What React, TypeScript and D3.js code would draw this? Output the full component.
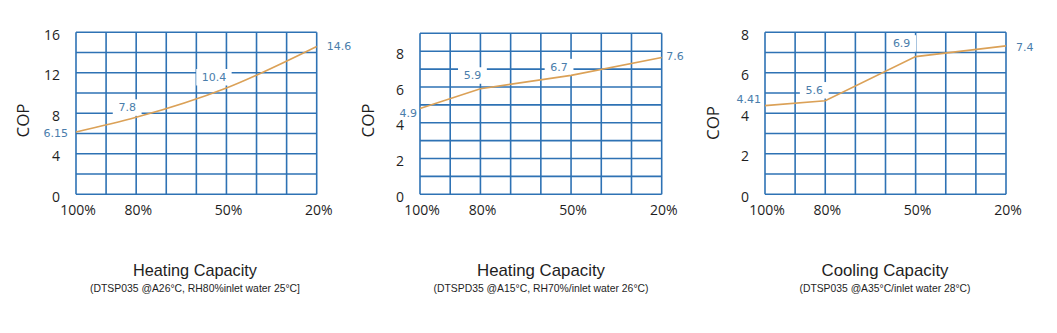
import React from "react";
import * as d3 from "d3";

// ---- data ----
const capacityTicks = [100, 80, 50, 20];
const capacityTickLabels = ["100%", "80%", "50%", "20%"];

const heatingA26Values = [6.15, 7.6, 10.5, 14.6];
const heatingA26Labels = ["6.15", "7.8", "10.4", "14.6"];

const heatingA15Values = [4.8, 5.9, 6.65, 7.65];
const heatingA15Labels = ["4.9", "5.9", "6.7", "7.6"];

const coolingA35Values = [4.38, 4.62, 6.8, 7.33];
const coolingA35Labels = ["4.41", "5.6", "6.9", "7.4"];

const chartTitles = ["Heating Capacity", "Heating Capacity", "Cooling Capacity"];
const chartSubtitles = [
  "(DTSP035 @A26°C, RH80%inlet water 25°C]",
  "(DTSPD35 @A15°C, RH70%/inlet water 26°C)",
  "(DTSP035 @A35°C/inlet water 28°C)",
];

// ---- styling / layout ----
const GRID = "#2e72b4";
const LINE = "#dba157";
const LABEL = "#4a7dab";
const TEXT = "#1e1e1e";

type Place = { mode: "left" | "right" | "above"; dx: number; dy: number };

const charts = [
  {
    values: heatingA26Values,
    labels: heatingA26Labels,
    yMax: 16,
    yLabelStep: 4,
    left: 76, right: 316.7, top: 32.3, bottom: 194.3,
    curve: d3.curveMonotoneX,
    copX: 22.5, copY: 120.5,
    titleW: 124, subW: 210, cx: 195,
    places: [
      { mode: "left", dx: -8, dy: 1 },
      { mode: "above", dx: -9, dy: -10 },
      { mode: "above", dx: -12.5, dy: -11 },
      { mode: "right", dx: 10, dy: 0 },
    ] as Place[],
  },
  {
    values: heatingA15Values,
    labels: heatingA15Labels,
    yMax: 9,
    yLabelStep: 2,
    left: 420, right: 661.7, top: 33.3, bottom: 194.3,
    curve: d3.curveLinear,
    copX: 368, copY: 120.5,
    titleW: 128, subW: 215, cx: 541,
    places: [
      { mode: "left", dx: -3, dy: 4.5 },
      { mode: "above", dx: -8, dy: -13.5 },
      { mode: "above", dx: -12, dy: -8.5 },
      { mode: "right", dx: 4.5, dy: -1.5 },
    ] as Place[],
  },
  {
    values: coolingA35Values,
    labels: coolingA35Labels,
    yMax: 8,
    yLabelStep: 2,
    left: 765, right: 1006, top: 32.3, bottom: 194.3,
    curve: d3.curveLinear,
    copX: 713, copY: 123,
    titleW: 127, subW: 171, cx: 885,
    places: [
      { mode: "left", dx: -4, dy: -6.5 },
      { mode: "above", dx: -11, dy: -10.7 },
      { mode: "above", dx: -14, dy: -13.4 },
      { mode: "right", dx: 10, dy: 0.8 },
    ] as Place[],
  },
];

function Chart({ c, i }: { c: (typeof charts)[number]; i: number }) {
  const x = d3.scaleLinear().domain([100, 20]).range([c.left, c.right]);
  const y = d3.scaleLinear().domain([0, c.yMax]).range([c.bottom, c.top]);
  const xGrid = d3.range(100, 19, -10);
  const yGrid = d3.range(0, c.yMax + 0.001, c.yMax === 16 ? 2 : 1);
  const yLabels = d3.range(0, c.yMax + 0.001, c.yLabelStep);
  const pts = capacityTicks.map((p, k) => [x(p), y(c.values[k])] as [number, number]);
  const path = d3.line().curve(c.curve)(pts) || "";
  const fontLabel = "'DejaVu Sans', Verdana, sans-serif";
  const fontTick = "'Open Sans', 'Segoe UI', sans-serif";
  const fontTitle = "'Liberation Sans Narrow', 'Arial Narrow', 'Liberation Sans', Arial, sans-serif";
  return (
    <g>
      {/* grid */}
      {xGrid.map((v) => (
        <line key={"vx" + v} x1={x(v)} x2={x(v)} y1={c.top} y2={c.bottom} stroke={GRID} strokeWidth={1.6} />
      ))}
      {yGrid.map((v) => (
        <line key={"hy" + v} x1={c.left} x2={c.right} y1={y(v)} y2={y(v)} stroke={GRID} strokeWidth={1.6} />
      ))}
      {/* label boxes */}
      {c.places.map((p, k) =>
        p.mode === "above" ? (
          <rect
            key={"b" + k}
            x={pts[k][0] + p.dx - (c.labels[k].length * 6.6 + 9) / 2}
            y={pts[k][1] + p.dy - 8}
            width={c.labels[k].length * 6.6 + 9}
            height={16.5}
            fill="#fff"
          />
        ) : null
      )}
      {/* line */}
      <path d={path} fill="none" stroke={LINE} strokeWidth={1.6} />
      {/* value labels */}
      {c.places.map((p, k) => (
        <text
          key={"l" + k}
          x={pts[k][0] + p.dx}
          y={pts[k][1] + p.dy}
          dy="0.36em"
          textAnchor={p.mode === "left" ? "end" : p.mode === "right" ? "start" : "middle"}
          fontFamily={fontLabel}
          fontSize={11}
          fill={LABEL}
        >
          {c.labels[k]}
        </text>
      ))}
      {/* y tick labels */}
      {yLabels.map((v) => (
        <text
          key={"yl" + v}
          x={c.left - 16}
          y={y(v) + 2.5}
          dy="0.36em"
          textAnchor="end"
          fontFamily={fontTick}
          fontSize={14}
          fill={TEXT}
        >
          {v}
        </text>
      ))}
      {/* x tick labels */}
      {capacityTicks.map((p, k) => (
        <text
          key={"xl" + p}
          x={x(p) + 2}
          y={210}
          dy="0.36em"
          textAnchor="middle"
          fontFamily={fontTick}
          fontSize={14}
          fill={TEXT}
        >
          {capacityTickLabels[k]}
        </text>
      ))}
      {/* axis title */}
      <text
        transform={`translate(${c.copX},${c.copY}) rotate(-90)`}
        dy="0.36em"
        textAnchor="middle"
        fontFamily={fontTick}
        fontSize={17}
        fill={TEXT}
      >
        COP
      </text>
      {/* titles */}
      <text
        x={c.cx}
        y={270}
        dy="0.36em"
        textAnchor="middle"
        fontFamily={fontTitle}
        fontSize={17}
        fill={TEXT}
        textLength={c.titleW}
        lengthAdjust="spacingAndGlyphs"
      >
        {chartTitles[i]}
      </text>
      <text
        x={c.cx}
        y={288.5}
        dy="0.36em"
        textAnchor="middle"
        fontFamily={fontTitle}
        fontSize={11}
        fill={TEXT}
        textLength={c.subW}
        lengthAdjust="spacingAndGlyphs"
      >
        {chartSubtitles[i]}
      </text>
    </g>
  );
}

export default function App() {
  return (
    <svg
      width={1057}
      height={333}
      style={{ position: "absolute", left: 0, top: 0, background: "#fff" }}
    >
      <rect width={1057} height={333} fill="#fff" />
      {charts.map((c, i) => (
        <Chart key={i} c={c} i={i} />
      ))}
    </svg>
  );
}
